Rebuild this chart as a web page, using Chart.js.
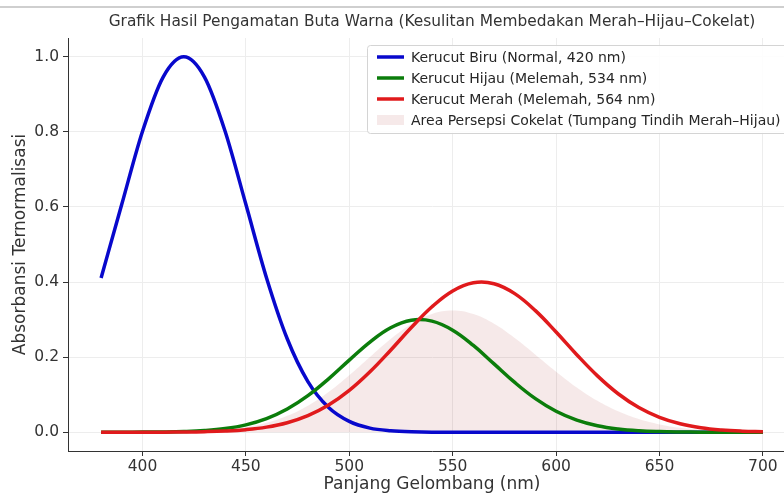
<!DOCTYPE html>
<html>
<head>
<meta charset="utf-8">
<title>Grafik Buta Warna</title>
<script src="https://cdn.jsdelivr.net/npm/chart.js@4.4.0/dist/chart.umd.min.js"></script>
<style>
  html, body { margin: 0; padding: 0; background: #fff; overflow: hidden; }
  #wrap { position: relative; width: 864px; height: 495px; }
  #topline { position: absolute; left: 0; top: 6px; width: 784px; height: 2px; background: #cfcfcf; }
</style>
</head>
<body>
<div id="wrap">
  <canvas id="chart" width="864" height="495"></canvas>
  <div id="topline"></div>
</div>
<script>
// wavelengths (nm), one reading every 10 nm
const wavelengths = [380, 390, 400, 410, 420, 430, 440, 450, 460, 470, 480, 490, 500, 510, 520, 530, 540,
                     550, 560, 570, 580, 590, 600, 610, 620, 630, 640, 650, 660, 670, 680, 690, 700];

// normalised absorbance
const blueCone = [0.411, 0.607, 0.801, 0.946, 1.0, 0.946, 0.801, 0.607, 0.411, 0.249, 0.135, 0.066, 0.029, 0.011, 0.004, 0.001, 0,
                  0, 0, 0, 0, 0, 0, 0, 0, 0, 0, 0, 0, 0, 0, 0, 0];
const greenCone = [0, 0.0001, 0.0003, 0.0008, 0.002, 0.0046, 0.0099, 0.0197, 0.0363, 0.0618, 0.0974, 0.1422, 0.1921, 0.2402, 0.2782, 0.2982, 0.2959,
                   0.2718, 0.2311, 0.182, 0.1326, 0.0894, 0.0558, 0.0323, 0.0173, 0.0086, 0.0039, 0.0017, 0.0007, 0.0002, 0.0001, 0, 0];
const redCone = [0, 0, 0.0001, 0.0002, 0.0006, 0.0015, 0.0033, 0.0069, 0.0136, 0.0253, 0.0441, 0.0723, 0.1112, 0.1608, 0.2184, 0.2788, 0.3341,
                 0.3762, 0.398, 0.3955, 0.3692, 0.3238, 0.2669, 0.2065, 0.1501, 0.1025, 0.0658, 0.0397, 0.0225, 0.012, 0.006, 0.0028, 0.0012];
const brownArea = [0, 0.0001, 0.0002, 0.0005, 0.0013, 0.0031, 0.0066, 0.0133, 0.025, 0.0436, 0.0708, 0.1073, 0.1517, 0.2005, 0.2483, 0.2885, 0.315,
                   0.324, 0.3146, 0.2888, 0.2509, 0.2066, 0.1614, 0.1194, 0.0837, 0.0556, 0.0349, 0.0207, 0.0116, 0.0061, 0.0031, 0.0014, 0.0006];

const seriesLabels = [
  'Kerucut Biru (Normal, 420 nm)',
  'Kerucut Hijau (Melemah, 534 nm)',
  'Kerucut Merah (Melemah, 564 nm)',
  'Area Persepsi Cokelat (Tumpang Tindih Merah\u2013Hijau)'
];
const chartTitle = 'Grafik Hasil Pengamatan Buta Warna (Kesulitan Membedakan Merah\u2013Hijau\u2013Cokelat)';
const xTicks = [400, 450, 500, 550, 600, 650, 700];
const yTicks = [0, 0.2, 0.4, 0.6, 0.8, 1.0];

const FONT = "'DejaVu Sans', sans-serif";
const TEXT = '#333333';

function toPoints(values) {
  return wavelengths.map((w, i) => ({ x: w, y: values[i] }));
}

// blue peaks on a sample, so monotone keeps it clean; the others peak between samples
function lineSet(label, values, color, order, monotone) {
  const ds = {
    label,
    data: toPoints(values),
    borderColor: color,
    borderWidth: 3.5,
    pointRadius: 0,
    fill: false,
    order
  };
  if (monotone) ds.cubicInterpolationMode = 'monotone';
  else ds.tension = 0.4;
  return ds;
}

// title centred over the plot, and legend inside the plot, like the original
const titleAndLegend = {
  id: 'titleAndLegend',
  afterDraw(chart) {
    const ctx = chart.ctx;
    const area = chart.chartArea;
    ctx.save();

    ctx.font = '15.4px ' + FONT;
    ctx.fillStyle = TEXT;
    ctx.textAlign = 'center';
    ctx.textBaseline = 'middle';
    ctx.fillText(chartTitle, (area.left + area.right) / 2, 22);

    ctx.beginPath();
    ctx.roundRect(367.5, 45.5, 460, 88, 3);
    ctx.fillStyle = 'rgba(255,255,255,0.85)';
    ctx.fill();
    ctx.strokeStyle = '#d4d4d4';
    ctx.lineWidth = 1;
    ctx.stroke();

    ctx.font = '14px ' + FONT;
    ctx.textAlign = 'left';
    chart.data.datasets.forEach((ds, i) => {
      const y = 57 + i * 21;
      if (ds.fill) {
        ctx.fillStyle = ds.backgroundColor;
        ctx.fillRect(377, y - 5, 27, 10);
      } else {
        ctx.strokeStyle = ds.borderColor;
        ctx.lineWidth = 3.5;
        ctx.beginPath();
        ctx.moveTo(377, y);
        ctx.lineTo(404, y);
        ctx.stroke();
      }
      ctx.fillStyle = '#262626';
      ctx.fillText(ds.label, 411, y + 1);
    });
    ctx.restore();
  }
};

new Chart(document.getElementById('chart'), {
  type: 'line',
  data: {
    datasets: [
      lineSet(seriesLabels[0], blueCone, '#0808cc', 2, true),
      lineSet(seriesLabels[1], greenCone, '#0b7d0b', 1, false),
      lineSet(seriesLabels[2], redCone, '#e01a1c', 0, false),
      {
        label: seriesLabels[3],
        data: toPoints(brownArea),
        borderColor: 'transparent',
        borderWidth: 0,
        backgroundColor: 'rgba(165,42,42,0.1)',
        pointRadius: 0,
        tension: 0.4,
        fill: 'origin',
        order: 3
      }
    ]
  },
  options: {
    responsive: false,
    animation: false,
    devicePixelRatio: 1,
    layout: { padding: { left: 0, right: 68, top: 38, bottom: 0 } },
    plugins: {
      legend: { display: false },
      tooltip: { enabled: false },
      title: { display: false }
    },
    scales: {
      x: {
        type: 'linear',
        min: 364,
        max: 716,
        afterBuildTicks: s => { s.ticks = xTicks.map(v => ({ value: v })); },
        afterFit: s => { s.height = 44; },
        grid: { color: '#ededed', tickColor: TEXT, tickLength: 5 },
        border: { color: TEXT, width: 1 },
        ticks: { color: TEXT, font: { family: FONT, size: 15.5 }, padding: 2, maxRotation: 0, autoSkip: false },
        title: {
          display: true,
          text: 'Panjang Gelombang (nm)',
          color: TEXT,
          font: { family: FONT, size: 17 },
          padding: { top: 0, bottom: 0 }
        }
      },
      y: {
        min: -0.05,
        max: 1.05,
        afterBuildTicks: s => { s.ticks = yTicks.map(v => ({ value: v })); },
        afterFit: s => { s.width = 68; },
        grid: { color: '#ededed', tickColor: TEXT, tickLength: 5 },
        border: { color: TEXT, width: 1 },
        ticks: { color: TEXT, font: { family: FONT, size: 15.5 }, padding: 4, callback: v => v.toFixed(1) },
        title: {
          display: true,
          text: 'Absorbansi Ternormalisasi',
          color: TEXT,
          font: { family: FONT, size: 17 },
          padding: { top: 10, bottom: 0 }
        }
      }
    }
  },
  plugins: [titleAndLegend]
});
</script>
</body>
</html>
